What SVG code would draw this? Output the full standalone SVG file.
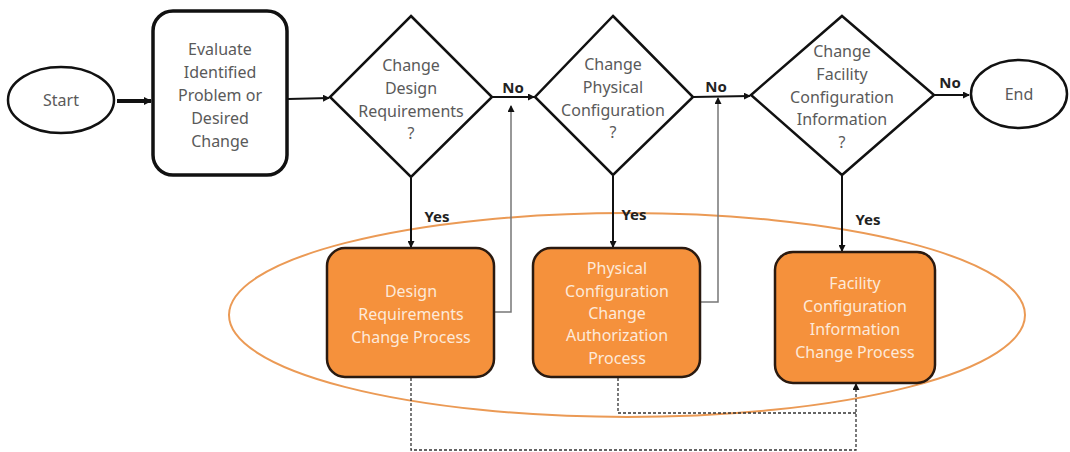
<svg xmlns="http://www.w3.org/2000/svg" width="1070" height="452" viewBox="0 0 1070 452">
<style>
.t{font-family:"Noto Sans","Liberation Sans",sans-serif;font-size:16px;fill:#5a5a5a;text-anchor:middle}
.w{font-family:"Noto Sans","Liberation Sans",sans-serif;font-size:16px;fill:#fde9d9;text-anchor:middle}
.b{font-family:"Noto Sans","Liberation Sans",sans-serif;font-size:15px;font-weight:bold;fill:#222;text-anchor:middle}
.ell{fill:#fff;stroke:#111;stroke-width:2.5}
.dia{fill:#fff;stroke:#111;stroke-width:2.5}
.proc{fill:#f5913c;stroke:#2a1a10;stroke-width:2.5}
.c{fill:none;stroke:#111;stroke-width:2}
.g{fill:none;stroke:#777;stroke-width:1.5}
.d{fill:none;stroke:#333;stroke-width:1.3;stroke-dasharray:3,2}
</style>
<defs>
<marker id="ah" markerWidth="8" markerHeight="8" refX="7" refY="4" orient="auto" markerUnits="userSpaceOnUse"><path d="M0,0 L8,4 L0,8 z" fill="#111"/></marker>
<marker id="ahs" markerWidth="7" markerHeight="7" refX="6" refY="3.5" orient="auto" markerUnits="userSpaceOnUse"><path d="M0,0 L7,3.5 L0,7 z" fill="#111"/></marker>
</defs>
<ellipse cx="627" cy="315" rx="398" ry="102" fill="none" stroke="#eb9a55" stroke-width="2"/>
<g id="connectors">
<line x1="117" y1="101" x2="151" y2="101" stroke="#111" stroke-width="4" marker-end="url(#ah)"/>
<line x1="288" y1="99" x2="329" y2="98" class="c" marker-end="url(#ahs)"/>
<line x1="492" y1="97" x2="534" y2="97" class="c" marker-end="url(#ahs)"/>
<line x1="693" y1="97" x2="750" y2="96" class="c" marker-end="url(#ahs)"/>
<line x1="934" y1="95" x2="969" y2="95" class="c" marker-end="url(#ahs)"/>
<line x1="411" y1="178" x2="411" y2="247" class="c" marker-end="url(#ahs)"/>
<line x1="613" y1="176" x2="613" y2="247" class="c" marker-end="url(#ahs)"/>
<line x1="842" y1="176" x2="842" y2="251" class="c" marker-end="url(#ahs)"/>
<polyline points="494,312 511,312 511,106" class="g" marker-end="url(#ahs)"/>
<polyline points="700,302 718,302 718,98" class="g" marker-end="url(#ahs)"/>
<polyline points="411,378 411,450 856,450 856,384" class="d" marker-end="url(#ahs)"/>
<polyline points="618,378 618,413 856,413" class="d"/>
<text x="513" y="93" class="b">No</text>
<text x="716" y="92" class="b">No</text>
<text x="950" y="88" class="b">No</text>
<text x="437" y="222" class="b">Yes</text>
<text x="634" y="220" class="b">Yes</text>
<text x="868" y="225" class="b">Yes</text>
</g>
<g id="start">
<ellipse cx="61" cy="100" rx="53" ry="33" class="ell"/>
<text x="61" y="106" class="t">Start</text>
</g>
<g id="evaluate">
<rect x="153" y="11" width="134" height="164" rx="20" fill="#fff" stroke="#111" stroke-width="3.5"/>
<text class="t" x="220"><tspan x="220" y="55">Evaluate</tspan><tspan x="220" y="78">Identified</tspan><tspan x="220" y="101">Problem or</tspan><tspan x="220" y="124">Desired</tspan><tspan x="220" y="147">Change</tspan></text>
</g>
<g id="d1">
<polygon points="411,16 492,97 411,177 330,97" class="dia"/>
<text class="t"><tspan x="411" y="71">Change</tspan><tspan x="411" y="94">Design</tspan><tspan x="411" y="117">Requirements</tspan><tspan x="411" y="139">?</tspan></text>
</g>
<g id="d2">
<polygon points="613,16 693,97 613,175 535,97" class="dia"/>
<text class="t"><tspan x="613" y="70">Change</tspan><tspan x="613" y="93">Physical</tspan><tspan x="613" y="116">Configuration</tspan><tspan x="613" y="138">?</tspan></text>
</g>
<g id="d3">
<polygon points="842,16 934,95 842,175 751,95" class="dia"/>
<text class="t"><tspan x="842" y="57">Change</tspan><tspan x="842" y="80">Facility</tspan><tspan x="842" y="103">Configuration</tspan><tspan x="842" y="125">Information</tspan><tspan x="842" y="148">?</tspan></text>
</g>
<g id="end">
<ellipse cx="1019" cy="94" rx="48" ry="34" class="ell"/>
<text x="1019" y="100" class="t">End</text>
</g>
<g id="p1">
<rect x="327" y="248" width="167" height="129" rx="18" class="proc"/>
<text class="w"><tspan x="411" y="297">Design</tspan><tspan x="411" y="320">Requirements</tspan><tspan x="411" y="343">Change  Process</tspan></text>
</g>
<g id="p2">
<rect x="533" y="248" width="167" height="129" rx="18" class="proc"/>
<text class="w"><tspan x="617" y="274">Physical</tspan><tspan x="617" y="297">Configuration</tspan><tspan x="617" y="319">Change</tspan><tspan x="617" y="341">Authorization</tspan><tspan x="617" y="364">Process</tspan></text>
</g>
<g id="p3">
<rect x="775" y="252" width="160" height="131" rx="18" class="proc"/>
<text class="w"><tspan x="855" y="289">Facility</tspan><tspan x="855" y="312">Configuration</tspan><tspan x="855" y="335">Information</tspan><tspan x="855" y="358">Change  Process</tspan></text>
</g>
</svg>
